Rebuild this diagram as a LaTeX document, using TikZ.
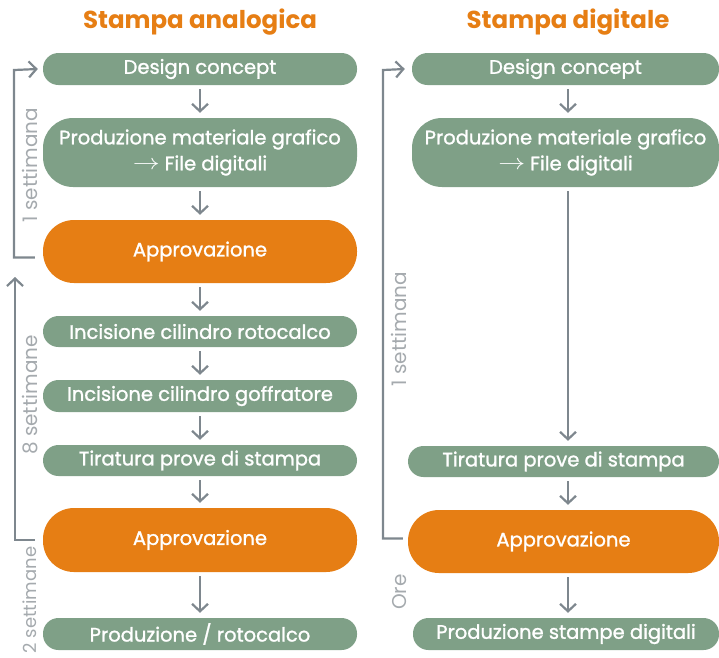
\documentclass[tikz,border=0pt]{standalone}
\usepackage{fontspec}
\usepackage{graphicx}
\setmainfont{Poppins}
\newfontfamily\medfont{Poppins}[FakeBold=1.3]
\usetikzlibrary{arrows.meta}
\definecolor{sgreen}{HTML}{7FA087}
\definecolor{sorange}{HTML}{E67E14}
\definecolor{sgray}{HTML}{7E878E}
\definecolor{lgray}{HTML}{A5AAAE}
\newcommand{\myarrow}{\raisebox{0.5pt}{\scalebox{1.3}[1.05]{$\rightarrow$}}\hspace{0.25em}}
\begin{document}
\begin{tikzpicture}[x=1pt,y=-1pt,
  gbox/.style={fill=sgreen,text=white,rounded corners=15.5pt,minimum height=32pt,inner sep=0pt,font=\medfont\fontsize{19.5}{24}\selectfont,align=center},
  gbig/.style={gbox,rounded corners=30pt,minimum height=69pt,font=\medfont\fontsize{19.5}{26}\selectfont},
  obox/.style={gbox,fill=sorange,rounded corners=31pt,minimum height=63pt},
  flow/.style={draw=sgray,line width=2.2pt,-{Straight Barb[length=7.5pt,width=16pt]},shorten <=4pt,shorten >=5pt},
  fb/.style={draw=sgray,line width=2.2pt,-{Straight Barb[length=7.5pt,width=16pt]}},
  side/.style={text=lgray,rotate=90,font=\fontsize{20}{24}\selectfont,inner sep=0pt},
  ttl/.style={text=sorange,font=\fontsize{24.5}{29}\selectfont\bfseries,inner sep=0pt}]
\useasboundingbox (0,0) rectangle (719,657);
% titles
\node[ttl] (t1) at (200,22) {Stampa analogica};
\node[ttl] (t2) at (568,22) {Stampa digitale};
% left column
\node[gbox,minimum width=314pt] (L1) at (200,69) {Design concept};
\node[gbig,minimum width=314pt] (L2) at (200,152.5) {Produzione materiale grafico\\\myarrow File digitali};
\node[obox,minimum width=314pt] (L3) at (200,251.5) {Approvazione};
\node[gbox,minimum width=314pt,minimum height=31pt] (L4) at (200,331.5) {Incisione cilindro rotocalco};
\node[gbox,minimum width=314pt] (L5) at (200,396) {Incisione cilindro goffratore};
\node[gbox,minimum width=314pt,minimum height=31pt] (L6) at (200,460.5) {Tiratura prove di stampa};
\node[obox,minimum width=314pt,minimum height=64pt] (L7) at (200,540) {Approvazione};
\node[gbox,minimum width=314pt] (L8) at (200,634) {Produzione / rotocalco};
\foreach \a/\b in {L1/L2,L2/L3,L3/L4,L4/L5,L5/L6,L6/L7,L7/L8}
  \draw[flow] (\a) -- (\b);
% right column
\node[gbox,minimum width=307pt] (R1) at (565.5,69) {Design concept};
\node[gbig,minimum width=307pt] (R2) at (565.5,152.5) {Produzione materiale grafico\\\myarrow File digitali};
\node[gbox,minimum width=311pt,minimum height=31pt] (R3) at (563.5,461.5) {Tiratura prove di stampa};
\node[obox,minimum width=311pt] (R4) at (563.5,541.5) {Approvazione};
\node[gbox,minimum width=306pt] (R5) at (566,634) {Produzione stampe digitali};
\coordinate (rx) at (568,0);
\draw[flow] (R1.south -| rx) -- (R2.north -| rx);
\draw[flow] (R2.south -| rx) -- (R3.north -| rx);
\draw[flow] (R3.south -| rx) -- (R4.north -| rx);
\draw[flow] (R4.south -| rx) -- (R5.north -| rx);
% feedback loops
\coordinate (a1) at (14,70);
\draw[fb] ([xshift=-8pt,yshift=-6pt]L3.west) -| (a1) -- ([xshift=-5pt]L1.west);
\coordinate (a2) at (15,277);
\draw[fb] ([xshift=-8pt]L7.west) -| (a2);
\coordinate (a3) at (383,70);
\draw[fb] ([xshift=-5pt,yshift=3pt]R4.west) -| (a3) -- ([xshift=-7pt]R1.west);
% side labels
\node[side] (s1) at (30,165) {1 settimana};
\node[side] (s2) at (30,395) {8 settimane};
\node[side,font=\fontsize{18}{22}\selectfont] (s3) at (30,600) {2 settimane};
\node[side] (s4) at (399,329) {1 settimana};
\node[side] (s5) at (400,592) {Ore};
\end{tikzpicture}
\end{document}
